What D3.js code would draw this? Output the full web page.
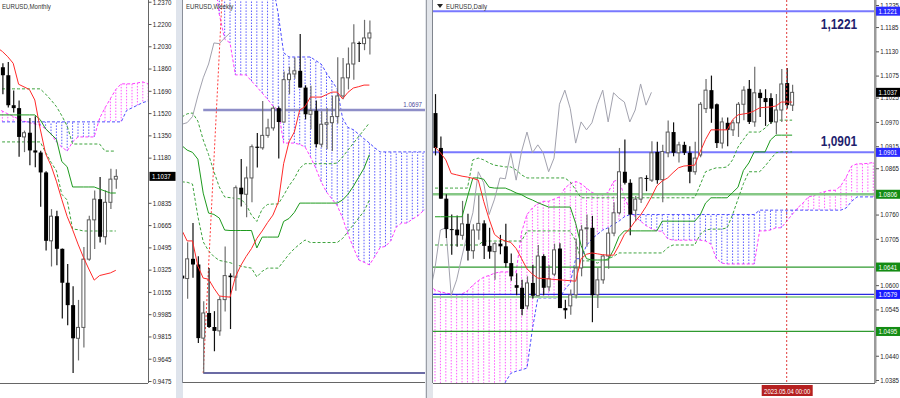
<!DOCTYPE html>
<html><head><meta charset="utf-8">
<script src="https://cdn.jsdelivr.net/npm/d3@7"></script>
<style>body{margin:0;background:#fff}svg{display:block}text{font-family:"Liberation Sans",Arial,sans-serif}</style>
</head><body><svg width="900" height="398"></svg>
<script>
// ================= DATA =================
// ---- Monthly (index 0 = Jul 2021, -1 = Jun 2021) ----
const monthlyStart = -1;
const monthlyOHLC = [
 [1.2227,1.2254,1.1847,1.1858],[1.1858,1.1909,1.1752,1.1870],[1.1870,1.1900,1.1664,1.1809],[1.1809,1.1909,1.1563,1.1580],
 [1.1580,1.1692,1.1524,1.1558],[1.1558,1.1616,1.1186,1.1338],[1.1338,1.1386,1.1222,1.1370],[1.1370,1.1482,1.1121,1.1235],
 [1.1235,1.1495,1.1106,1.1219],[1.1219,1.1233,1.0806,1.1067],[1.1067,1.1076,1.0471,1.0545],[1.0545,1.0787,1.0349,1.0733],
 [1.0733,1.0774,1.0359,1.0484],[1.0484,1.0486,0.9952,1.0225],[1.0225,1.0368,0.9901,1.0054],[1.0054,1.0198,0.9536,0.9801],
 [0.9801,1.0094,0.9632,0.9884],[0.9884,1.0497,0.9730,1.0405],[1.0405,1.0736,1.0393,1.0705],[1.0705,1.0929,1.0483,1.0863],
 [1.0863,1.1033,1.0533,1.0576],[1.0576,1.0930,1.0516,1.0839],[1.0839,1.1095,1.0788,1.1016],[1.1016,1.1092,1.0942,1.1037]];
const monthlyTenkan = [1.202,1.199,1.195,1.190,1.174,1.172,1.170,1.162,1.140,1.121,1.112,1.100,1.086,1.073,1.063,1.052,1.042,1.033,1.0245,1.028,1.029,1.030,1.032];
const monthlyKijun = [1.1506,1.1506,1.1506,1.1506,1.1506,1.1506,1.1506,1.1506,1.147,1.140,1.136,1.132,1.115,1.111,1.0956,1.0956,1.0956,1.0956,1.0956,1.094,1.0925,1.091,1.091];
const monthlyLevelHigh = [1.1705,1.1705,1.1705,1.1705,1.1705,1.1705,1.1705,1.1705,1.1705,1.1665,1.162,1.157,1.150,1.142,1.1284,1.1284,1.1284,1.1284,1.1284,1.1284,1.123,1.123,1.123];
const monthlyLevelLow = [1.130,1.130,1.130,1.130,1.130,1.130,1.130,1.130,1.130,1.122,1.1145,1.108,1.090,1.0856,1.0635,1.0630,1.0620,1.0620,1.0620,1.0620,1.0620,1.0620,1.0620];
const monthlySpanA = [1.156,1.1535,1.1514,1.1495,1.1475,1.1458,1.1447,1.1437,1.1428,1.140,1.136,1.130,1.126,1.123,1.130,1.1338,1.1338,1.1338,1.1338,1.148,1.156,1.163,1.170,1.1743,1.1743,1.1743,1.175,1.1758,1.1743];
const monthlySpanB = [1.1453,1.1453,1.1453,1.1453,1.1453,1.1453,1.1453,1.1453,1.1453,1.1453,1.1453,1.1453,1.1453,1.1453,1.1453,1.1453,1.1453,1.1453,1.1453,1.1453,1.1453,1.1453,1.1453,1.1453,1.154,1.156,1.158,1.160,1.1613];
const monthlyTicks = [1.2370,1.2200,1.2030,1.1860,1.1690,1.1520,1.1350,1.1180,1.0835,1.0665,1.0495,1.0325,1.0155,0.9985,0.9815,0.9645,0.9475];
const monthlyDateIdx = [-1,7,15];
const monthlyDateLabels = ["1 Jun 2021","1 Feb 2022","1 Oct 2022"];

// ---- Weekly (index 0 = week of 16 Oct 2022) ----
const weeklyStart = -7;
const weeklyOHLC = [
 [0.9966,1.0079,0.9910,0.9953],[0.9953,1.0113,0.9864,1.0040],[1.0040,1.0198,0.9956,1.0015],[1.0015,1.0051,0.9668,0.9690],
 [0.9690,0.9853,0.9536,0.9801],[0.9801,0.9999,0.9735,0.9739],[0.9739,0.9809,0.9632,0.9722],[0.9722,0.9875,0.9700,0.9860],
 [0.9860,1.0094,0.9807,0.9966],[0.9966,0.9976,0.9730,0.9959],[0.9959,1.0364,0.9899,1.0354],[1.0354,1.0481,1.0271,1.0325],
 [1.0325,1.0448,1.0223,1.0397],[1.0397,1.0545,1.0290,1.0535],[1.0535,1.0595,1.0443,1.0530],[1.0530,1.0737,1.0522,1.0585],
 [1.0585,1.0658,1.0574,1.0618],[1.0618,1.0714,1.0606,1.0705],[1.0705,1.0713,1.0483,1.0644],[1.0644,1.0867,1.0642,1.0831],
 [1.0831,1.0888,1.0767,1.0856],[1.0856,1.0929,1.0835,1.0870],[1.0870,1.1033,1.0796,1.0796],[1.0796,1.0806,1.0656,1.0678],
 [1.0678,1.0804,1.0612,1.0694],[1.0694,1.0739,1.0532,1.0546],[1.0546,1.0691,1.0533,1.0634],[1.0634,1.0706,1.0524,1.0641],
 [1.0641,1.0760,1.0516,1.0668],[1.0668,1.0930,1.0637,1.0759],[1.0759,1.0926,1.0745,1.0839],[1.0839,1.0973,1.0788,1.0900],
 [1.0900,1.1075,1.0831,1.0993],[1.0993,1.0999,1.0909,1.0990],[1.0990,1.1095,1.0961,1.1015],[1.1015,1.1092,1.0942,1.1037]];
const weeklyTenkan = [1.0167,1.0119,1.0119,1.0008,0.9955,0.9950,0.9910,0.9876,0.9873,0.9871,0.9960,1.0010,1.0050,1.0085,1.0130,1.0163,1.0200,1.0233,1.0290,1.0460,1.0556,1.0600,1.0697,1.0712,1.0754,1.0754,1.0754,1.0765,1.0776,1.0776,1.0746,1.0775,1.0794,1.0800,1.0807,1.0807];
const weeklyKijun = [1.0540,1.0520,1.0510,1.0480,1.0330,1.0242,1.0236,1.0220,1.0167,1.0165,1.0165,1.0165,1.0165,1.0165,1.0088,1.0136,1.0136,1.0136,1.0136,1.0205,1.0218,1.0245,1.0286,1.0286,1.0286,1.0286,1.0286,1.0286,1.0286,1.0286,1.0300,1.0325,1.0360,1.0400,1.0440,1.0500];
const weeklyLevelHigh = [1.0666,1.0680,1.0684,1.0648,1.0565,1.0500,1.0425,1.0357,1.0313,1.0310,1.0307,1.0304,1.0280,1.0233,1.0205,1.0260,1.0280,1.0282,1.0282,1.0320,1.0362,1.0395,1.0440,1.0460,1.0460,1.0460,1.0460,1.0460,1.0460,1.0463,1.0490,1.0520,1.0550,1.0580,1.0610,1.0640];
const weeklyLevelLow = [1.0380,1.0378,1.0370,1.0228,1.0115,1.0075,1.0050,1.0033,1.0028,1.0023,1.0015,1.0008,1.0003,0.9999,0.9960,0.9985,0.9999,0.9999,0.9999,1.0030,1.0060,1.0085,1.0105,1.0123,1.0112,1.0112,1.0112,1.0112,1.0112,1.0112,1.0130,1.0160,1.0190,1.0220,1.0250,1.0300];
const weeklySpanA = [1.14,1.14,1.14,1.14,1.14,1.14,1.13,1.112,1.1010,1.0993,1.0852,1.0852,1.0852,1.0825,1.0799,1.0772,1.0745,1.0715,1.0697,1.0551,1.0551,1.0551,1.0545,1.0534,1.0490,1.0440,1.0380,1.0335,1.0305,1.0275,1.0220,1.0150,1.0090,1.0035,1.0025,1.0013,1.0050,1.0090,1.0095,1.0120,1.0180,1.0198,1.0198,1.0215,1.0229,1.0251,1.0270];
const weeklySpanB = [1.125,1.125,1.125,1.125,1.125,1.125,1.125,1.125,1.125,1.125,1.125,1.125,1.125,1.125,1.125,1.125,1.125,1.125,1.112,1.095,1.0931,1.0931,1.0931,1.0931,1.0931,1.0915,1.0900,1.0860,1.0825,1.0790,1.0660,1.0620,1.0610,1.0590,1.0570,1.0551,1.0530,1.0512,1.0512,1.0512,1.0512,1.0512,1.0512,1.0512,1.0512,1.0512,1.0512];
const weeklyResistance = 1.0697;
const weeklyLow = 0.9536;
const weeklyTrend = [[-3,0.9536],[0.5,1.1183]];
const weeklyDateIdx = [-8,0,8,16,24];
const weeklyDateLabels = ["21 Aug 2022","16 Oct 2022","11 Dec 2022","5 Feb 2023","2 Apr 2023"];

// ---- Daily (index 0 = 2 Feb 2023) ----
const dailyStart = 0;
const dailyOHLC = [
 [1.0990,1.1033,1.0894,1.0911],[1.0911,1.0937,1.0796,1.0796],[1.0796,1.0806,1.0707,1.0727],[1.0727,1.0760,1.0669,1.0726],
 [1.0726,1.0758,1.0687,1.0713],[1.0713,1.0791,1.0703,1.0739],[1.0739,1.0762,1.0656,1.0678],[1.0678,1.0738,1.0660,1.0725],
 [1.0725,1.0804,1.0703,1.0740],[1.0740,1.0747,1.0659,1.0689],[1.0689,1.0730,1.0660,1.0676],[1.0676,1.0698,1.0612,1.0694],
 [1.0694,1.0714,1.0670,1.0688],[1.0688,1.0739,1.0640,1.0650],[1.0650,1.0672,1.0610,1.0620],[1.0600,1.0627,1.0577,1.0594],
 [1.0594,1.0612,1.0532,1.0546],[1.0553,1.0620,1.0545,1.0605],[1.0605,1.0646,1.0570,1.0576],[1.0576,1.0691,1.0576,1.0666],
 [1.0666,1.0670,1.0577,1.0594],[1.0596,1.0645,1.0586,1.0615],[1.0625,1.0694,1.0620,1.0680],[1.0683,1.0695,1.0548,1.0548],
 [1.0548,1.0567,1.0524,1.0543],[1.0553,1.0590,1.0533,1.0578],[1.0578,1.0706,1.0570,1.0639],[1.0639,1.0736,1.0620,1.0725],
 [1.0730,1.0760,1.0687,1.0730],[1.0730,1.0757,1.0516,1.0577],[1.0578,1.0639,1.0548,1.0612],[1.0612,1.0670,1.0603,1.0666],
 [1.0666,1.0730,1.0637,1.0718],[1.0718,1.0788,1.0711,1.0764],[1.0764,1.0911,1.0760,1.0857],[1.0857,1.0930,1.0828,1.0832],
 [1.0832,1.0840,1.0713,1.0760],[1.0770,1.0802,1.0745,1.0795],[1.0795,1.0845,1.0786,1.0843],[1.0843,1.0849,1.0813,1.0841],
 [1.0838,1.0926,1.0834,1.0900],[1.0902,1.0925,1.0830,1.0838],[1.0839,1.0918,1.0788,1.0903],[1.0900,1.0973,1.0890,1.0947],
 [1.0947,1.0969,1.0892,1.0900],[1.0900,1.0925,1.0878,1.0918],[1.0918,1.0925,1.0895,1.0900],[1.0900,1.0915,1.0831,1.0857],
 [1.0857,1.0925,1.0850,1.0888],[1.0895,1.1015,1.0890,1.1010],[1.1000,1.1067,1.0990,1.1042],[1.1042,1.1075,1.0968,1.1000],
 [1.1010,1.1012,1.0911,1.0922],[1.0922,1.0980,1.0910,1.0970],[1.0968,1.0980,1.0915,1.0952],[1.0952,1.0975,1.0938,1.0968],
 [1.0968,1.1015,1.0936,1.1010],[1.1010,1.1051,1.0974,1.1042],[1.1045,1.1065,1.0965,1.0970],[1.0970,1.1095,1.0959,1.1036],
 [1.1036,1.1044,1.0981,1.1024],[1.1024,1.1044,1.0961,1.1015],[1.1024,1.1035,1.0965,1.0970],[1.0970,1.1033,1.0942,1.0997],
 [1.0997,1.1090,1.0970,1.1056],[1.1058,1.1092,1.1000,1.1008],[1.1008,1.1054,1.0995,1.1037]];
const dailyTenkan = [1.0913,1.0900,1.0884,1.0853,1.0850,1.0847,1.0845,1.0842,1.0838,1.0790,
 1.0750,1.0715,1.0705,1.0700,1.0697,1.0683,1.0660,1.0637,1.0625,1.0616,
 1.0615,1.0614,1.0613,1.0612,1.0611,1.0610,1.0609,1.0660,1.0670,1.0673,
 1.0671,1.0669,1.0668,1.0668,1.0690,1.0715,1.0728,1.0745,1.0759,1.0778,
 1.0800,1.0825,1.0836,1.0843,1.0855,1.0866,1.0870,1.0871,1.0872,1.0902,
 1.0930,1.0952,1.0952,1.0952,1.0952,1.0975,1.0986,1.0988,1.0990,1.0995,
 1.1002,1.1003,1.1004,1.1006,1.1015,1.1015,1.1015];
const dailyKijun = [1.0755,1.0755,1.0755,1.0755,1.0755,1.0755,1.0800,1.0843,1.0843,1.0840,
 1.0822,1.0820,1.0820,1.0820,1.0815,1.0809,1.0805,1.0798,1.0793,1.0787,
 1.0782,1.0777,1.0777,1.0777,1.0777,1.0777,1.0740,1.0690,1.0660,1.0657,
 1.0657,1.0657,1.0657,1.0680,1.0710,1.0723,1.0723,1.0723,1.0723,1.0723,
 1.0723,1.0723,1.0745,1.0745,1.0745,1.0745,1.0745,1.0745,1.0745,1.0759,
 1.0786,1.0798,1.0798,1.0798,1.0798,1.0810,1.0822,1.0860,1.0877,1.0902,
 1.0902,1.0902,1.0929,1.0940,1.0940,1.0940,1.0940];
const dailyLevelHigh = [1.0820,1.0820,1.0820,1.0820,1.0820,1.0820,1.0820,1.0884,1.0888,1.0884,
 1.0877,1.0872,1.0870,1.0868,1.0868,1.0861,1.0850,1.0843,1.0843,1.0843,
 1.0843,1.0843,1.0843,1.0843,1.0843,1.0834,1.0816,1.0798,1.0798,1.0798,
 1.0798,1.0798,1.0798,1.0798,1.0798,1.0798,1.0798,1.0798,1.0798,1.0798,
 1.0798,1.0798,1.0798,1.0798,1.0798,1.0798,1.0798,1.0798,1.0798,1.0827,
 1.0857,1.0862,1.0866,1.0866,1.0868,1.0884,1.0913,1.0930,1.0947,1.0947,
 1.0947,1.0956,1.0968,1.0974,1.0974,1.0974,1.0974];
const dailyLevelLow = [1.0691,1.0691,1.0691,1.0691,1.0691,1.0691,1.0691,1.0691,1.0691,1.0700,
 1.0700,1.0700,1.0700,1.0700,1.0700,1.0700,1.0700,1.0723,1.0723,1.0723,
 1.0723,1.0723,1.0723,1.0723,1.0723,1.0723,1.0700,1.0655,1.0655,1.0655,
 1.0650,1.0655,1.0660,1.0665,1.0673,1.0673,1.0673,1.0673,1.0673,1.0673,
 1.0673,1.0673,1.0673,1.0685,1.0691,1.0691,1.0691,1.0691,1.0691,1.0715,
 1.0725,1.0727,1.0727,1.0727,1.0730,1.0760,1.0795,1.0830,1.0857,1.0857,
 1.0857,1.0870,1.0885,1.0900,1.0902,1.0902,1.0902];
const dailyCloudStart = -1;
const dailySpanA = [1.0600,1.0589,1.0585,1.0582,1.0580,1.0578,1.0580,1.0587,1.0600,1.0610,1.0618,1.0622,1.0627,
 1.0630,1.0630,1.0630,1.0630,1.0720,1.0760,1.0775,1.0785,1.0790,1.0790,1.0795,1.0800,1.0820,1.0830,1.0835,1.0830,
 1.0820,1.0810,1.0805,1.0805,1.0810,1.0835,1.0840,1.0800,1.0770,1.0755,1.0745,1.0735,1.0728,1.0723,1.0722,1.0705,
 1.0702,1.0702,1.0702,1.0702,1.0702,1.0702,1.0700,1.0693,1.0660,1.0650,1.0648,1.0648,1.0648,1.0648,1.0648,1.0648,
 1.0723,1.0723,1.0725,1.0730,1.0730,1.0745,1.0760,1.0775,1.0786,1.0800,1.0803,1.0808,1.0812,1.0815,1.0815,1.0825,
 1.0845,1.0870,1.0875,1.0875,1.0876,1.0878];
const dailySpanB = [1.0300,1.0300,1.0300,1.0300,1.0300,1.0300,1.0300,1.0300,1.0300,1.0300,1.0300,1.0300,1.0300,1.0300,
 1.0380,1.0400,1.0405,1.0408,1.0412,1.0500,1.0571,1.0571,1.0571,1.0571,1.0571,1.0590,1.0605,1.0660,1.0660,1.0690,
 1.0705,1.0715,1.0725,1.0730,1.0738,1.0745,1.0755,1.0760,1.0760,1.0760,1.0760,1.0760,1.0760,1.0760,1.0760,1.0760,
 1.0760,1.0760,1.0760,1.0760,1.0760,1.0760,1.0760,1.0760,1.0760,1.0760,1.0760,1.0760,1.0760,1.0760,1.0760,
 1.0770,1.0770,1.0770,1.0770,1.0770,1.0770,1.0770,1.0770,1.0770,1.0770,1.0770,1.0770,1.0770,1.0770,1.0770,1.0770,
 1.0775,1.0790,1.0800,1.0800,1.0800,1.0800];
const dailyLevels = [
 {v:1.1221,color:"#7878ff",w:2,box:"#2a2aff"},
 {v:1.0901,color:"#7878ff",w:2,box:"#2a2aff"},
 {v:1.0806,color:"#86c886",w:2.5,box:"#148c14"},
 {v:1.0641,color:"#2f9a2f",w:1.3,box:"#148c14"},
 {v:1.0573,color:"#9ed49e",w:2,box:null},
 {v:1.0579,color:"#2a2ae0",w:1.3,box:"#1a1aff"},
 {v:1.0495,color:"#2f9a2f",w:1.3,box:"#148c14"}];
const dailyBigLabels = [{v:1.1221,t:"1,1221",dy:18},{v:1.0901,t:"1,0901",dy:-6}];
const dailyTicks = [1.1235,1.1185,1.1130,1.1075,1.1025,1.0970,1.0915,1.0865,1.0760,1.0705,1.0600,1.0545,1.0440,1.0385];
const dailyDateIdx = [0,8,16,24,32,40,48,56];
const dailyDateLabels = ["2 Feb 2023","14 Feb 2023","24 Feb 2023","8 Mar 2023","20 Mar 2023","30 Mar 2023","11 Apr 2023","21 Apr 2023"];
const dailyMarkerIdx = 65;
const dailyMarkerLabel = "2023.05.04 00:00";
const currentPrice = 1.1037;
const chikouShift = 26;

// ================= DRAW =================
const svg = d3.select("svg");
svg.append("rect").attr("width",900).attr("height",398).attr("fill","#fff");
const C = {tenkan:"#ff2a2a",kijun:"#1e9a1e",lvl:"#3da33d",spanA:"#ff3cff",spanB:"#4c4cff",
           hatchUp:"#ff5cff",hatchDn:"#5a5aff",chikou:"#a2a2ae",bull:"#ffffff",bear:"#000000"};
const SX = 0.85, FS = 7.2;

function txt(parent, x, y, s, o){
  o = o || {};
  return parent.append("text").attr("transform",`translate(${x},${y}) scale(${o.sx||SX},1)`)
    .attr("text-anchor",o.anchor||"start").attr("font-size",o.size||FS).attr("fill",o.fill||"#222")
    .attr("font-family",o.family||null).attr("font-weight",o.weight||null).text(s);
}
function makePanel(name, x0, x1, yBottom, xd, xr, yd, yr){
  const x = d3.scaleLinear().domain(xd).range(xr);
  const y = d3.scaleLinear().domain(yd).range(yr);
  const id = "clip-"+name;
  svg.append("clipPath").attr("id",id).append("rect").attr("x",x0).attr("y",0).attr("width",x1-x0).attr("height",yBottom);
  const g = svg.append("g").attr("clip-path",`url(#${id})`);
  return {x,y,g,x0,x1,yBottom};
}
const ser = (start, vals) => vals.map((v,k)=>({i:start+k,v}));

function drawCloud(P, start, A, B){
  const a = ser(start,A), b = ser(start,B);
  P.g.append("g").selectAll("line").data(a).join("line")
    .attr("x1",d=>P.x(d.i)).attr("x2",d=>P.x(d.i))
    .attr("y1",d=>P.y(d.v)).attr("y2",(d,k)=>P.y(b[k].v))
    .attr("stroke",(d,k)=>d.v>=b[k].v?C.hatchUp:C.hatchDn)
    .attr("stroke-width",1).attr("stroke-dasharray","1.5,1.5");
  const ln = d3.line().x(d=>P.x(d.i)).y(d=>P.y(d.v));
  P.g.append("path").attr("d",ln(a)).attr("fill","none").attr("stroke",C.spanA).attr("stroke-width",1).attr("stroke-dasharray","3,2");
  P.g.append("path").attr("d",ln(b)).attr("fill","none").attr("stroke",C.spanB).attr("stroke-width",1).attr("stroke-dasharray","3,2");
}
function drawLine(P, start, vals, color, dash, w){
  const ln = d3.line().x(d=>P.x(d.i)).y(d=>P.y(d.v));
  P.g.append("path").attr("d",ln(ser(start,vals))).attr("fill","none").attr("stroke",color)
    .attr("stroke-width",w||1).attr("stroke-dasharray",dash||null);
}
function drawCandles(P, start, ohlc){
  const data = ohlc.map((d,k)=>({i:start+k,o:d[0],h:d[1],l:d[2],c:d[3]}));
  const g = P.g.append("g");
  g.selectAll("line").data(data).join("line")
    .attr("x1",d=>P.x(d.i)+0.5).attr("x2",d=>P.x(d.i)+0.5)
    .attr("y1",d=>P.y(d.h)).attr("y2",d=>P.y(d.l))
    .attr("stroke",d=>d.c>=d.o?"#6e6e6e":"#111").attr("stroke-width",1.2);
  g.selectAll("rect").data(data).join("rect")
    .attr("x",d=>P.x(d.i)-1.5).attr("width",d=>d.c>=d.o?3:4)
    .attr("y",d=>P.y(Math.max(d.o,d.c))).attr("height",d=>Math.max(1,Math.abs(P.y(d.o)-P.y(d.c))))
    .attr("fill",d=>d.c>=d.o?C.bull:C.bear)
    .attr("stroke",d=>d.c>=d.o?"#5a5a5a":"none").attr("stroke-width",1);
}
function drawChikou(P, start, ohlc, shift){
  const pts = ohlc.map((d,k)=>({i:start+k-shift,v:d[3]}));
  const ln = d3.line().x(d=>P.x(d.i)).y(d=>P.y(d.v));
  P.g.append("path").attr("d",ln(pts)).attr("fill","none").attr("stroke",C.chikou).attr("stroke-width",1);
}
function priceAxis(P, ax, ticks){
  const g = svg.append("g").attr("transform",`translate(${ax},0)`);
  g.call(d3.axisRight(P.y).tickValues(ticks).tickSize(3).tickFormat(d3.format(".4f")));
  g.select(".domain").remove();
  g.selectAll(".tick line").attr("stroke","#555");
  g.selectAll(".tick text").attr("font-size",FS).attr("fill","#222").attr("font-family","Liberation Sans, Arial")
    .attr("x",5).attr("transform",`scale(${SX},1)`);
  return g;
}
function dateAxis(P, idx, labels){
  const clipId = "dclip"+Math.round(P.x0);
  svg.append("clipPath").attr("id",clipId).append("rect").attr("x",P.x0).attr("y",P.yBottom).attr("width",P.x1-P.x0).attr("height",20);
  const g = svg.append("g").attr("transform",`translate(0,${P.yBottom})`).attr("clip-path",`url(#${clipId})`);
  g.call(d3.axisBottom(P.x).tickValues(idx).tickSize(3).tickFormat((d,k)=>labels[k]));
  g.select(".domain").remove();
  g.selectAll(".tick line").attr("stroke","#555");
  g.selectAll(".tick text").attr("font-size",FS).attr("fill","#222").attr("font-family","Liberation Sans, Arial")
    .attr("text-anchor","start").attr("x",1).attr("y",5).attr("transform",`scale(${SX},1)`);
  svg.append("line").attr("x1",P.x0).attr("x2",P.x1).attr("y1",P.yBottom+0.5).attr("y2",P.yBottom+0.5).attr("stroke","#666");
}
function priceBox(P, x, v, s, fill, w){
  const yy = P.y(v);
  svg.append("rect").attr("x",x).attr("y",yy-4.5).attr("width",w||25).attr("height",9).attr("fill",fill);
  txt(svg, x+2.5, yy+2.6, s, {fill:"#fff"});
}

// ---------- Monthly panel ----------
const M = makePanel("m",0,148,383,[15,22],[78,115.8],[1.2200,0.9475],[24,381]);
drawCloud(M, 0, monthlySpanA, monthlySpanB);
drawLine(M, 0, monthlyLevelHigh, C.lvl, "3,2");
drawLine(M, 0, monthlyLevelLow, C.lvl, "3,2");
drawCandles(M, monthlyStart, monthlyOHLC);
drawLine(M, 0, monthlyKijun, C.kijun);
drawLine(M, 0, monthlyTenkan, C.tenkan);
svg.append("line").attr("x1",148.5).attr("x2",148.5).attr("y1",0).attr("y2",383).attr("stroke","#666");
priceAxis(M,148.5,monthlyTicks);
priceBox(M,149.5,currentPrice,"1.1037","#000",26);
dateAxis(M, monthlyDateIdx, monthlyDateLabels);
txt(svg,2,9,"EURUSD,Monthly",{fill:"#333"});

// ---------- Weekly panel ----------
const Wp = makePanel("w",183,425,382,[0,28],[219.3,369.4],[1.0697,0.9536],[110,373]);
drawCloud(Wp, weeklyStart, weeklySpanA, weeklySpanB);
drawLine(Wp, weeklyStart, weeklyLevelHigh, C.lvl, "3,2");
drawLine(Wp, weeklyStart, weeklyLevelLow, C.lvl, "3,2");
Wp.g.append("line").attr("x1",Wp.x(-3)).attr("x2",425).attr("y1",Wp.y(weeklyResistance)).attr("y2",Wp.y(weeklyResistance)).attr("stroke","#8e8ec8").attr("stroke-width",2.5);
Wp.g.append("line").attr("x1",Wp.x(-3)).attr("x2",425).attr("y1",Wp.y(weeklyLow)).attr("y2",Wp.y(weeklyLow)).attr("stroke","#3a3a86").attr("stroke-width",1.3);
Wp.g.append("line").attr("x1",Wp.x(weeklyTrend[0][0])).attr("x2",Wp.x(weeklyTrend[1][0]))
  .attr("y1",Wp.y(weeklyTrend[0][1])).attr("y2",Wp.y(weeklyTrend[1][1])).attr("stroke","#ff3a3a").attr("stroke-dasharray","2,2");
drawChikou(Wp, weeklyStart, weeklyOHLC, chikouShift);
drawCandles(Wp, weeklyStart, weeklyOHLC);
drawLine(Wp, weeklyStart, weeklyKijun, C.kijun);
drawLine(Wp, weeklyStart, weeklyTenkan, C.tenkan);
txt(svg,422,Wp.y(weeklyResistance)-3,d3.format(".4f")(weeklyResistance),{anchor:"end",fill:"#4a4a9a"});
dateAxis(Wp, weeklyDateIdx, weeklyDateLabels);
txt(svg,186,9,"EURUSD,Weekly",{fill:"#333"});

// ---------- Daily panel ----------
const D = makePanel("d",433,875,383,[0,65],[435,786.7],[1.1235,1.0385],[5,380]);
drawCloud(D, dailyCloudStart, dailySpanA, dailySpanB);
dailyLevels.forEach(l=>{
  D.g.append("line").attr("x1",433).attr("x2",875).attr("y1",D.y(l.v)).attr("y2",D.y(l.v)).attr("stroke",l.color).attr("stroke-width",l.w);
});
drawLine(D, dailyStart, dailyLevelHigh, C.lvl, "3,2");
drawLine(D, dailyStart, dailyLevelLow, C.lvl, "3,2");
drawChikou(D, dailyStart, dailyOHLC, chikouShift);
drawCandles(D, dailyStart, dailyOHLC);
drawLine(D, dailyStart, dailyKijun, C.kijun);
drawLine(D, dailyStart, dailyTenkan, C.tenkan);
D.g.append("line").attr("x1",D.x(dailyMarkerIdx)).attr("x2",D.x(dailyMarkerIdx)).attr("y1",0).attr("y2",383)
  .attr("stroke","#e03a3a").attr("stroke-dasharray","2,2");
dailyBigLabels.forEach(b=>{
  txt(svg,839,D.y(b.v)+b.dy,b.t,{anchor:"middle",family:"Liberation Serif, Times New Roman, serif",weight:"bold",size:14,fill:"#1f1f6e"});
});
svg.append("rect").attr("x",874).attr("y",0).attr("width",2.5).attr("height",383).attr("fill","#9a9a9a");
priceAxis(D,876,dailyTicks);
dailyLevels.filter(l=>l.box).forEach(l=>priceBox(D,876,l.v,d3.format(".4f")(l.v),l.box,24));
priceBox(D,876,currentPrice,"1.1037","#000",24);
dateAxis(D, dailyDateIdx, dailyDateLabels);
const mx = D.x(dailyMarkerIdx);
svg.append("rect").attr("x",mx-25).attr("y",385).attr("width",51).attr("height",11).attr("fill","#b52020");
txt(svg,mx+0.5,393.5,dailyMarkerLabel,{anchor:"middle",fill:"#fff",size:7});
svg.append("path").attr("d","M437,4 L443,4 L440,8 Z").attr("fill","#222");
txt(svg,446,9,"EURUSD,Daily",{fill:"#333"});

// ---------- separators ----------
svg.append("rect").attr("x",176).attr("y",0).attr("width",7).attr("height",398).attr("fill","#dfe4ec");
svg.append("line").attr("x1",182.5).attr("x2",182.5).attr("y1",0).attr("y2",383).attr("stroke","#8a8f99");
svg.append("rect").attr("x",425).attr("y",0).attr("width",8).attr("height",398).attr("fill","#e2e5ea");
svg.append("line").attr("x1",426.5).attr("x2",426.5).attr("y1",0).attr("y2",398).attr("stroke","#9a9ea6");
svg.append("line").attr("x1",432.5).attr("x2",432.5).attr("y1",0).attr("y2",383).attr("stroke","#80858e");
</script></body></html>
